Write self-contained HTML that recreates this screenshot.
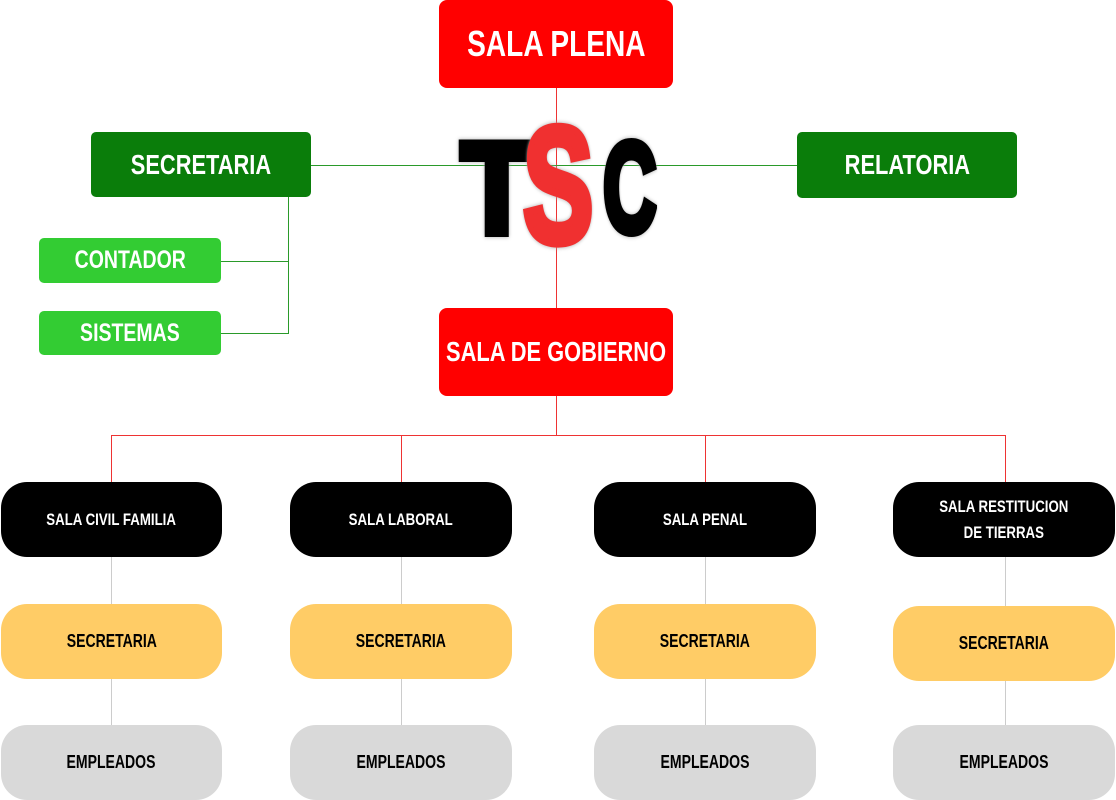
<!DOCTYPE html>
<html><head><style>
body{margin:0;width:1116px;height:800px;background:#fff;position:relative;overflow:hidden;font-family:"Liberation Sans",sans-serif}
.b{position:absolute;display:flex;align-items:center;justify-content:center;text-align:center;font-weight:bold}
.b span{display:inline-block;transform:scaleX(.78);white-space:nowrap}
.l{position:absolute}
.r{background:#ff0000;border-radius:8px;color:#fff;font-size:36px}
.g{background:#0a7d0a;border-radius:5px;color:#fff;font-size:28px}
.lg{background:#33cc33;border-radius:5px;color:#fff;font-size:25px}
.k{background:#000;border-radius:26px;color:#fff;font-size:17px;line-height:26px}
.y{background:#ffcc66;border-radius:26px;color:#000;font-size:18px}
.e{background:#d9d9d9;border-radius:26px;color:#000;font-size:18px}
.t{position:absolute;font-weight:bold;line-height:1;transform-origin:0 0;filter:drop-shadow(0 0 2px #aaa)}
</style></head><body>
<div class="l" style="left:556px;top:88px;width:1px;height:220px;background:#e33"></div>
<div class="l" style="left:311px;top:165px;width:486px;height:1px;background:#2a9a2a"></div>
<div class="l" style="left:288px;top:197px;width:1px;height:137px;background:#2a9a2a"></div>
<div class="l" style="left:221px;top:261px;width:67px;height:1px;background:#2a9a2a"></div>
<div class="l" style="left:221px;top:333px;width:67px;height:1px;background:#2a9a2a"></div>
<div class="l" style="left:556px;top:396px;width:1px;height:39px;background:#e33"></div>
<div class="l" style="left:111px;top:435px;width:894px;height:1px;background:#e33"></div>
<div class="l" style="left:111px;top:435px;width:1px;height:47px;background:#e33"></div>
<div class="l" style="left:401px;top:435px;width:1px;height:47px;background:#e33"></div>
<div class="l" style="left:705px;top:435px;width:1px;height:47px;background:#e33"></div>
<div class="l" style="left:1005px;top:435px;width:1px;height:47px;background:#e33"></div>
<div class="l" style="left:111px;top:557px;width:1px;height:170px;background:#ccc"></div>
<div class="l" style="left:401px;top:557px;width:1px;height:170px;background:#ccc"></div>
<div class="l" style="left:705px;top:557px;width:1px;height:170px;background:#ccc"></div>
<div class="l" style="left:1005px;top:557px;width:1px;height:170px;background:#ccc"></div>

<div class="b r" style="left:439px;top:0;width:234px;height:88px"><span>SALA PLENA</span></div>
<div class="b r" style="left:439px;top:308px;width:234px;height:88px;font-size:28px"><span>SALA DE GOBIERNO</span></div>
<div class="b g" style="left:91px;top:132px;width:220px;height:65px"><span>SECRETARIA</span></div>
<div class="b g" style="left:797px;top:132px;width:220px;height:66px"><span>RELATORIA</span></div>
<div class="b lg" style="left:39px;top:238px;width:182px;height:45px"><span>CONTADOR</span></div>
<div class="b lg" style="left:39px;top:311px;width:182px;height:44px"><span>SISTEMAS</span></div>

<div class="t" style="left:461px;top:123px;font-size:130px;color:#000;-webkit-text-stroke:8px #000;transform:scaleX(.9)">T</div>
<div class="t" style="left:523px;top:103px;font-size:165px;color:#f03030;-webkit-text-stroke:8px #f03030;transform:scaleX(.64)">S</div>
<div class="t" style="left:603px;top:125px;font-size:128px;color:#000;-webkit-text-stroke:8px #000;transform:scaleX(.58)">C</div>

<div class="b k" style="left:1px;top:482px;width:221px;height:75px"><span>SALA CIVIL FAMILIA</span></div>
<div class="b k" style="left:290px;top:482px;width:222px;height:75px"><span>SALA LABORAL</span></div>
<div class="b k" style="left:594px;top:482px;width:222px;height:75px"><span>SALA PENAL</span></div>
<div class="b k" style="left:893px;top:482px;width:222px;height:75px"><span>SALA RESTITUCION<br>DE TIERRAS</span></div>

<div class="b y" style="left:1px;top:604px;width:221px;height:75px"><span>SECRETARIA</span></div>
<div class="b y" style="left:290px;top:604px;width:222px;height:75px"><span>SECRETARIA</span></div>
<div class="b y" style="left:594px;top:604px;width:222px;height:75px"><span>SECRETARIA</span></div>
<div class="b y" style="left:893px;top:606px;width:222px;height:75px"><span>SECRETARIA</span></div>

<div class="b e" style="left:1px;top:725px;width:221px;height:75px"><span>EMPLEADOS</span></div>
<div class="b e" style="left:290px;top:725px;width:222px;height:75px"><span>EMPLEADOS</span></div>
<div class="b e" style="left:594px;top:725px;width:222px;height:75px"><span>EMPLEADOS</span></div>
<div class="b e" style="left:893px;top:725px;width:222px;height:75px"><span>EMPLEADOS</span></div>
</body></html>
